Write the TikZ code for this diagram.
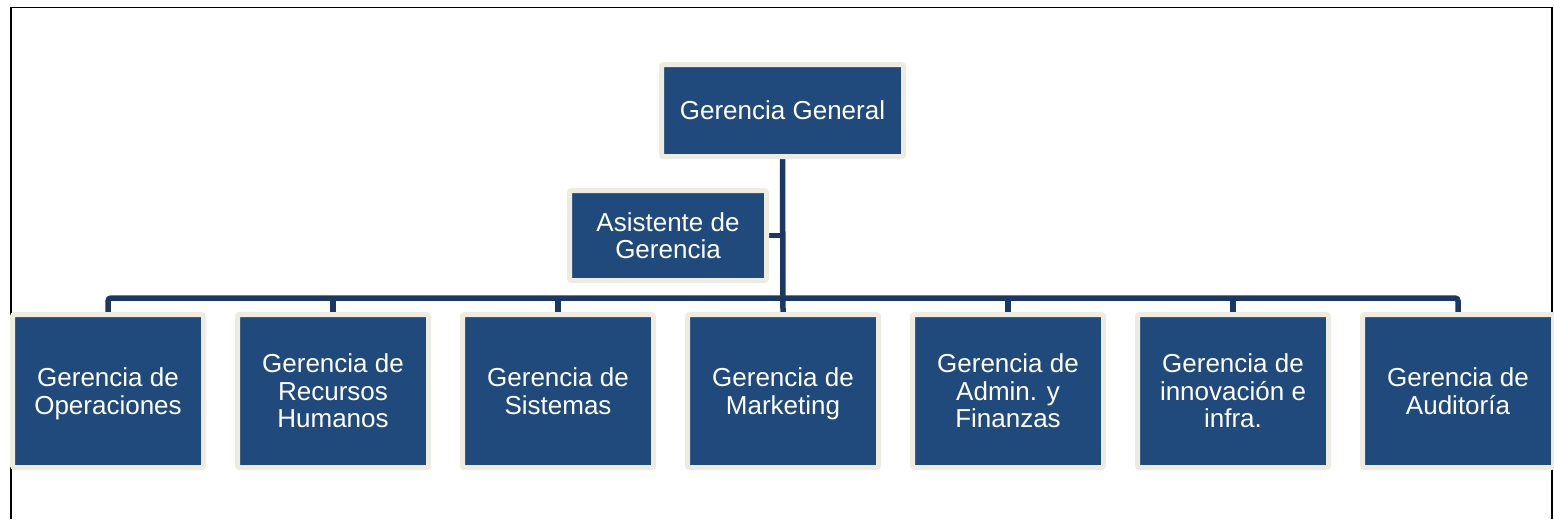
\documentclass[tikz,border=0pt]{standalone}
\usepackage{fontspec}
\setmainfont{Liberation Sans}
\usetikzlibrary{backgrounds}
\definecolor{boxblue}{HTML}{214A7C}
\definecolor{cream}{HTML}{EEECE1}
\definecolor{linenavy}{HTML}{1B3764}
\tikzset{
  orgbox/.style={draw=cream, fill=boxblue, line width=5pt, rounded corners=2pt,
    text=white, align=center, inner sep=0pt,
    font=\fontsize{26}{27.5}\selectfont},
  conn/.style={draw=linenavy, line width=5.5pt},
}
\begin{document}
\begin{tikzpicture}[x=1pt,y=-1pt]
\useasboundingbox (0,0) rectangle (1554,519);
% frame
\draw[line width=1.5pt, black] (11,519) -- (11,7.5) -- (1552,7.5) -- (1552,519);

\node[orgbox, minimum width=242pt, minimum height=92pt] (gg) at (782.5,110.5) {Gerencia General};
\node[orgbox, minimum width=197pt, minimum height=90pt] (as) at (668,235.5) {Asistente de\\Gerencia};

\foreach \i/\t in {1/{Gerencia de\\\smash{Operaciones}},
                   2/{Gerencia de\\Recursos\\Humanos},
                   3/{Gerencia de\\Sistemas},
                   4/{Gerencia de\\\smash{Marketing}},
                   5/{Gerencia de\\Admin. y\\Finanzas},
                   6/{Gerencia de\\innovación e\\infra.},
                   7/{Gerencia de\\Auditoría}} {
  \node[orgbox, minimum width=191pt, minimum height=153pt] (b\i) at ({108+225*(\i-1)},391) {\t};
}
\coordinate (bus) at (0,298);

\begin{scope}[on background layer]
  \draw[conn] (gg.south) -- (b4.north);
  \draw[conn] (as.east) -- (as.east -| gg.south);
  \draw[conn, rounded corners=3pt] (b1.north) -- (b1.north |- bus) -- (b7.north |- bus) -- (b7.north);
  \foreach \i in {2,3,5,6} {
    \draw[conn] (b\i.north) -- (b\i.north |- bus);
  }
\end{scope}
\end{tikzpicture}
\end{document}
